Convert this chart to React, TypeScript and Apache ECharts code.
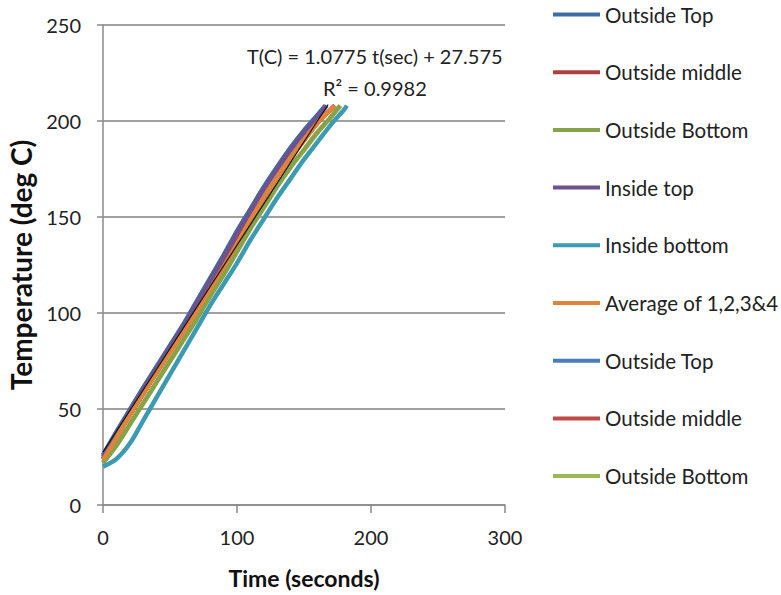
import React, { useEffect, useRef } from "react";
import * as echarts from "echarts";

type Pt = [number, number];

const seriesNames = [
  "Outside Top",
  "Outside middle",
  "Outside Bottom",
  "Inside top",
  "Inside bottom",
  "Average of 1,2,3&4",
  "Outside Top (2)",
  "Outside middle (2)",
  "Outside Bottom (2)",
];

const seriesColors = [
  "#3F6DA3",
  "#A9423F",
  "#87A34A",
  "#6C5290",
  "#3C9AB3",
  "#E0843B",
  "#4A7EBB",
  "#BE4B48",
  "#98B954",
];

const outsideTop: Pt[] = [
  [0, 26], [10, 38], [20, 49.5], [30, 61], [40, 72], [50, 83], [60, 94], [70, 106], [80, 118],
  [90, 130], [100, 142.5], [110, 154], [120, 165.5], [130, 176], [140, 186], [150, 195], [160, 203], [166, 208],
];
const outsideMiddle: Pt[] = [
  [0, 24], [10, 35.5], [20, 47], [30, 58], [40, 69], [50, 80], [60, 91], [70, 102], [80, 113.5],
  [90, 125], [100, 137], [110, 149], [120, 160], [130, 171], [140, 181], [150, 190], [160, 199], [170, 206], [173, 208],
];
const outsideBottom: Pt[] = [
  [0, 22], [10, 31], [20, 42], [30, 53], [40, 64], [50, 75], [60, 86], [70, 97], [80, 109],
  [90, 120], [100, 132], [110, 144], [120, 155], [130, 166], [140, 176], [150, 185], [160, 194], [170, 202], [177, 208],
];
const insideTop: Pt[] = [
  [0, 25], [10, 37], [20, 48.5], [30, 60], [40, 71], [50, 82], [60, 93], [70, 105], [80, 117],
  [90, 129], [100, 141.5], [110, 153], [120, 164.5], [130, 175], [140, 185], [150, 194], [160, 202], [167, 208],
];
const insideBottom: Pt[] = [
  [0, 20], [10, 24], [20, 32], [30, 44], [40, 56], [50, 68], [60, 80], [70, 92], [80, 104],
  [90, 115], [100, 126], [110, 138], [120, 149], [130, 160], [140, 170], [150, 180], [160, 189], [170, 198], [180, 206], [182, 208],
];
const average: Pt[] = [
  [0, 23.5], [10, 35], [20, 47], [30, 58], [40, 69], [50, 79.5], [60, 90], [70, 101], [80, 112.5],
  [90, 124], [100, 136], [110, 148.5], [120, 160], [130, 171], [140, 181], [150, 190], [160, 199], [170, 206], [173, 208],
];
const trendLine: Pt[] = [
  [0, 27.6], [168, 208.6],
];

const equationText = "T(C) = 1.0775 t(sec) + 27.575";
const r2Text = "R² = 0.9982";

const xTicks = { min: 0, max: 300, interval: 100 };
const yTicks = { min: 0, max: 250, interval: 50 };

const FONT = "Lato, 'Open Sans', sans-serif";

export default function App() {
  const ref = useRef<HTMLDivElement>(null);

  useEffect(() => {
    if (!ref.current) return;
    const chart = echarts.init(ref.current, undefined, { renderer: "svg" });

    const dataSets: Pt[][] = [
      outsideTop,
      outsideMiddle,
      outsideBottom,
      insideTop,
      insideBottom,
      average,
      outsideTop,
      outsideMiddle,
      outsideBottom,
    ];

    // draw duplicates (7-9) first so they sit beneath
    const order = [6, 7, 8, 0, 1, 2, 3, 4, 5];
    const lineSeries: any[] = order.map((i) => ({
      name: seriesNames[i],
      type: "line",
      data: dataSets[i],
      color: seriesColors[i],
      showSymbol: false,
      symbol: "none",
      smooth: 0.3,
      lineStyle: { width: 4.5, color: seriesColors[i] },
      z: 2,
    }));
    lineSeries.push({
      name: "trend",
      type: "line",
      data: trendLine,
      color: "#111",
      symbol: "none",
      lineStyle: { width: 1.2, color: "#111" },
      z: 3,
    });

    chart.setOption({
      animation: false,
      backgroundColor: "#ffffff",
      grid: { left: 103, right: 276, top: 25, bottom: 90, outerBoundsMode: "none", containLabel: false },
      xAxis: {
        type: "value",
        min: xTicks.min,
        max: xTicks.max,
        interval: xTicks.interval,
        name: "Time (seconds)",
        nameLocation: "middle",
        nameGap: 61,
        nameTextStyle: { fontFamily: FONT, fontSize: 23, fontWeight: "bold", color: "#111" },
        axisLine: { show: true, onZero: false, lineStyle: { color: "#8a8a8a", width: 1.5 } },
        axisTick: { show: true, length: 8, lineStyle: { color: "#8a8a8a", width: 1.5 } },
        axisLabel: { fontFamily: FONT, fontSize: 20, color: "#222", margin: 22 },
        splitLine: { show: false },
      },
      yAxis: {
        type: "value",
        min: yTicks.min,
        max: yTicks.max,
        interval: yTicks.interval,
        name: "Temperature (deg C)",
        nameLocation: "middle",
        nameGap: 60,
        nameRotate: 90,
        nameTextStyle: { fontFamily: FONT, fontSize: 28, fontWeight: "bold", color: "#111" },
        axisLine: { show: true, lineStyle: { color: "#8a8a8a", width: 1.5 } },
        axisTick: { show: true, length: 6, lineStyle: { color: "#8a8a8a", width: 1.5 } },
        axisLabel: { fontFamily: FONT, fontSize: 20, color: "#222", margin: 22 },
        splitLine: { show: true, lineStyle: { color: "#a0a0a0", width: 1.8 } },
      },
      legend: {
        orient: "vertical",
        left: 548,
        top: -1,
        icon: "rect",
        itemWidth: 47,
        itemHeight: 4,
        itemGap: 36.7,
        data: seriesNames,
        formatter: (n: string) => n.replace(" (2)", ""),
        textStyle: { fontFamily: FONT, fontSize: 20.5, color: "#222", lineHeight: 20 },
      },
      graphic: [
        {
          type: "text",
          left: 247,
          top: 46,
          style: { text: equationText, font: `20px ${FONT}`, fill: "#222" },
        },
        {
          type: "text",
          left: 323,
          top: 78,
          style: { text: r2Text, font: `20px ${FONT}`, fill: "#222" },
        },
      ],
      series: lineSeries,
    });

    return () => chart.dispose();
  }, []);

  return (
    <div
      ref={ref}
      style={{ position: "fixed", left: 0, top: 0, width: 781, height: 595 }}
    />
  );
}
